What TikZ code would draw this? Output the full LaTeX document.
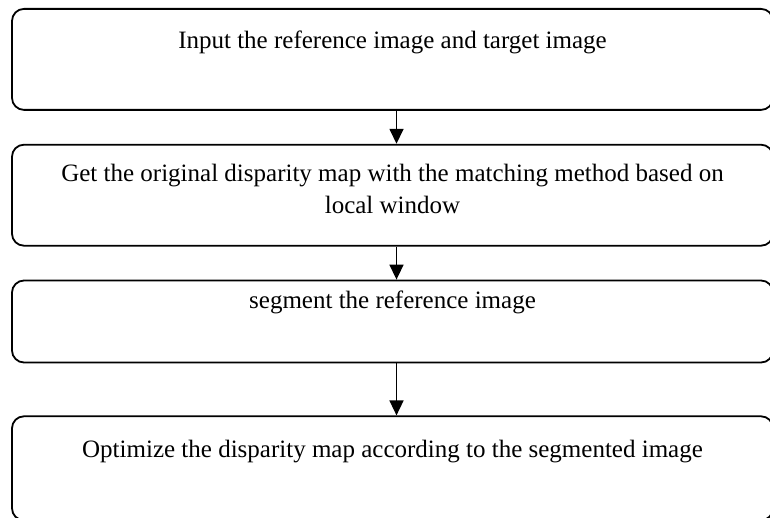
\documentclass[tikz,border=0pt]{standalone}
\usepackage{fontspec}
\setmainfont{Liberation Serif}
\usepackage{tikz}
\usetikzlibrary{arrows.meta,positioning}

\begin{document}
\begin{tikzpicture}[
  x=0.5pt, y=-0.5pt,
  font=\fontsize{12.5pt}{16pt}\selectfont,
  stepbox/.style={draw, line width=0.9pt, rounded corners=6pt, align=center,
    minimum width=380.5pt, inner xsep=0pt, inner ysep=0pt},
  arrow/.style={-{Triangle[length=7.5pt,width=7pt]}, line width=0.8pt},
  node distance=16.5pt
]
\useasboundingbox (0,0) rectangle (770,518);

\node[stepbox, anchor=north, text height=20pt, text depth=30.5pt] (input) at (392.5,8)
  {Input the reference image and target image};
\node[stepbox, below=of input, text height=34.5pt, text depth=16pt] (disp)
  {Get the original disparity map with the matching method based on\\local window};
\node[stepbox, below=of disp, text height=14pt, text depth=27pt] (seg)
  {segment the reference image};
\node[stepbox, below=26pt of seg, text height=20.5pt, text depth=31.5pt] (opt)
  {Optimize the disparity map according to the segmented image};

\draw[arrow] ([xshift=2pt]input.south) -- ([xshift=2pt]disp.north);
\draw[arrow] ([xshift=2pt]disp.south) -- ([xshift=2pt]seg.north);
\draw[arrow] ([xshift=2pt]seg.south) -- ([xshift=2pt]opt.north);
\end{tikzpicture}
\end{document}
